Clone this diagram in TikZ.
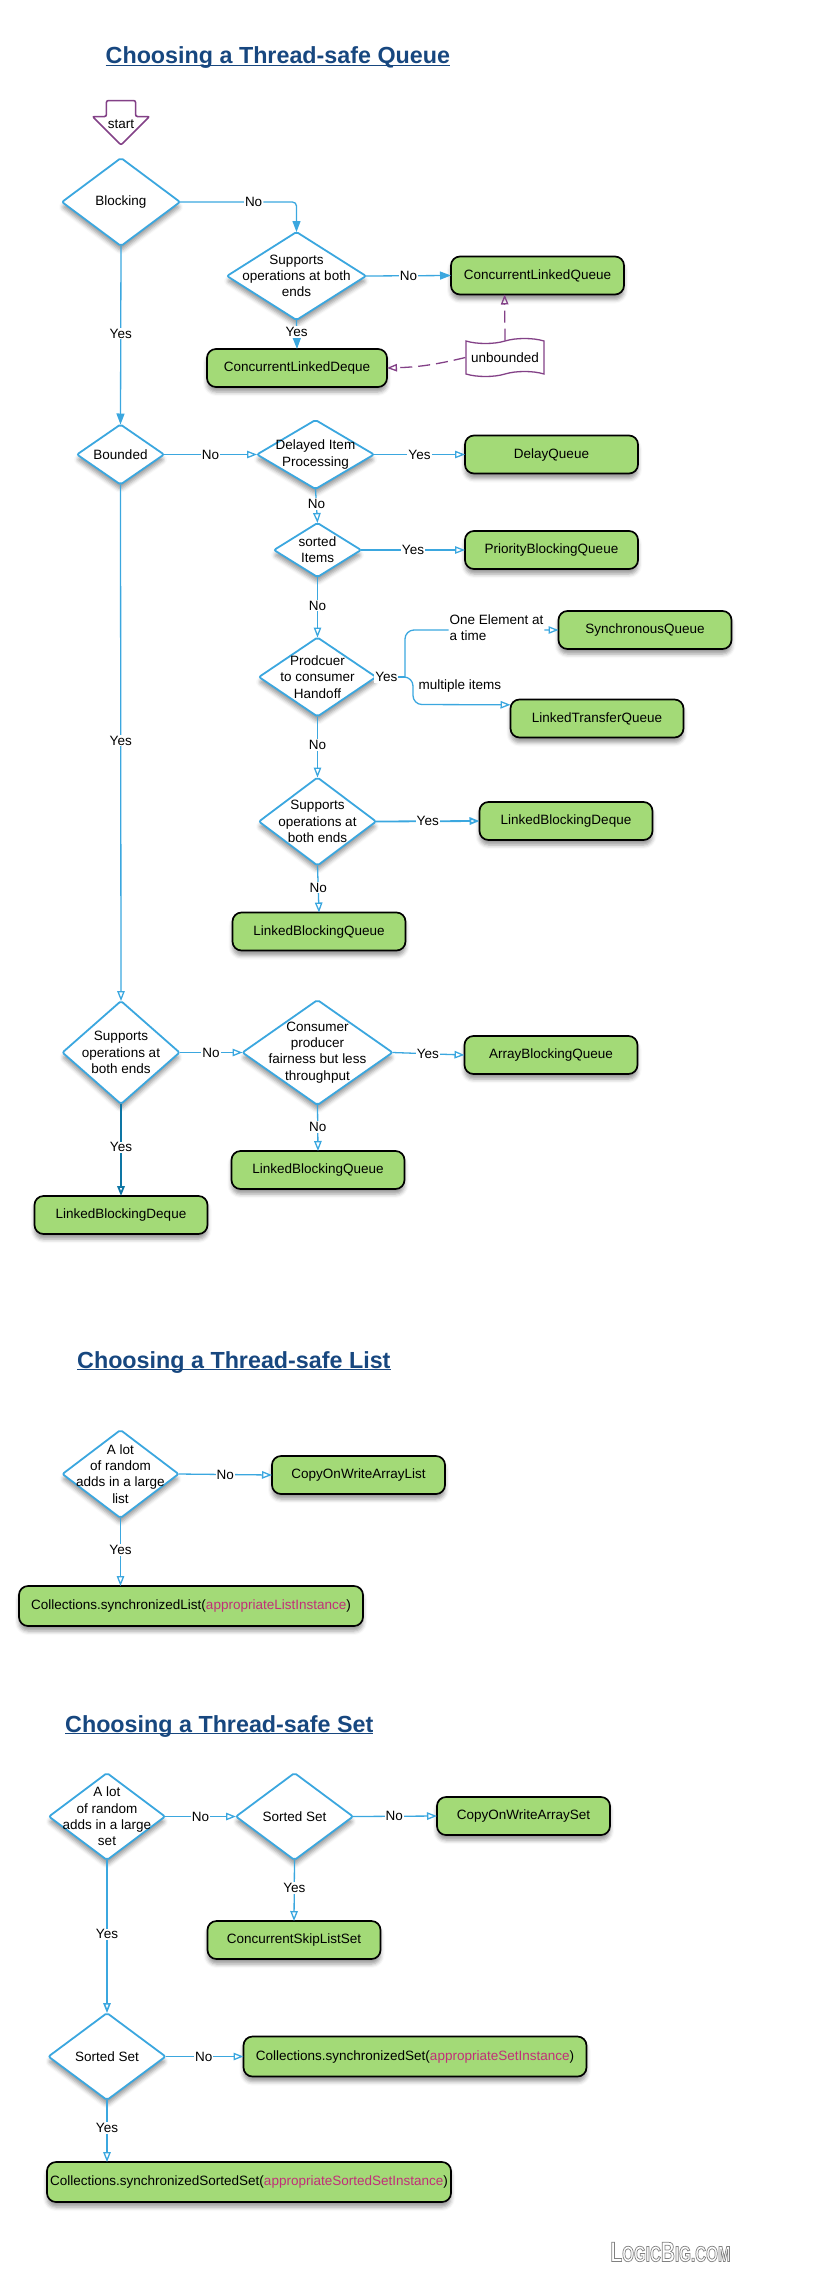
\documentclass[tikz,border=0pt]{standalone}
\usepackage{fontspec}
\setmainfont{Liberation Sans}
\newfontfamily\logofont[FakeStretch=0.69]{Liberation Sans}
\usetikzlibrary{shapes.geometric,shapes.arrows,shapes.symbols,positioning,arrows.meta,shadows.blur}

\definecolor{linkblue}{HTML}{3BA7DF}
\definecolor{darkblue}{HTML}{0E76A4}
\definecolor{boxgreen}{HTML}{A3DA77}
\definecolor{notepurple}{HTML}{834187}
\definecolor{titleblue}{HTML}{17477F}
\definecolor{argpink}{HTML}{C12F78}

\newcommand{\headline}[1]{\setbox0\hbox{#1}\rlap{\rule[-2.4pt]{\wd0}{1.6pt}}\box0}
\newcommand{\logoword}{\special{pdf:code 2 Tr 0.7 w 0.5 G 1 g}\fontsize{28}{28}\selectfont\bfseries L{\fontsize{22}{22}\selectfont OGIC}B{\fontsize{22}{22}\selectfont IG.COM}\special{pdf:code 0 Tr 0 g}}

\begin{document}
\begin{tikzpicture}[
    x=1pt, y=-1pt,
    softshadow/.style={blur shadow={shadow xshift=0pt, shadow yshift=-5pt, shadow blur radius=4pt, shadow opacity=40}},
    box/.style={rectangle, draw=black, line width=1.7pt, rounded corners=9pt, minimum width=173pt, minimum height=38pt, align=center, fill=boxgreen, font=\fontsize{13.5}{16.3}\selectfont, text height=12pt, text depth=5pt, inner sep=0pt, outer sep=0pt, softshadow},
    decision/.style={diamond, aspect=1, draw=linkblue, line width=1.8pt, rounded corners=2pt, fill=white, inner sep=-30pt, outer sep=0pt, align=center, font=\fontsize{13.5}{16.3}\selectfont, softshadow},
    title/.style={font=\fontsize{23.3}{28}\selectfont\bfseries, text=titleblue, inner sep=0pt},
    lbl/.style={fill=white, inner sep=1pt, font=\fontsize{13.5}{16.3}\selectfont},
    note/.style={inner sep=1pt, align=left, font=\fontsize{13.5}{16.3}\selectfont},
    arrow/.style={-{Triangle[open, length=10pt, width=7.5pt]}, draw=linkblue, line width=1.3pt},
    solidarrow/.style={-{Triangle[length=11pt, width=8pt]}, draw=linkblue, line width=1.3pt},
    notearrow/.style={-{Triangle[open, length=10pt, width=7.5pt]}, draw=notepurple, line width=1.3pt, dash pattern=on 12pt off 6pt}
]
\useasboundingbox (0,0) rectangle (823,2296);

% Titles
\node[title, anchor=base west] (queuetitle) at (105.5,64) {\headline{Choosing a Thread-safe Queue}};
\node[title, anchor=base west] (listtitle) at (77,1368) {\headline{Choosing a Thread-safe List}};
\node[title, anchor=base west] (settitle) at (65,1732) {\headline{Choosing a Thread-safe Set}};

% Start
\node[single arrow, shape border rotate=270, draw=notepurple, line width=1.6pt, rounded corners=2pt, fill=white, minimum height=44.5pt, minimum width=57pt, single arrow head extend=13.25pt, single arrow tip angle=90, inner sep=0pt, font=\fontsize{13.5}{16.3}\selectfont] (start) at (121,115.5) {\raisebox{-13pt}[0pt][0pt]{start}};

% Queue decisions
\node[decision, minimum width=118pt, minimum height=88pt] (blocking) at (121,202) {Blocking};
\node[decision, minimum width=139pt, minimum height=88pt] (ends) at (296.5,276) {Supports\\operations at both\\ends};
\node[decision, minimum width=87pt, minimum height=60pt] (bounded) at (120.5,454.5) {Bounded};
\node[decision, minimum width=117pt, minimum height=69pt] (delayed) at (315.5,454.5) {Delayed Item\\Processing};
\node[decision, minimum width=87pt, minimum height=54pt] (sorted) at (317.5,550) {sorted\\Items};
\node[decision, minimum width=117pt, minimum height=79pt] (handoff) at (317.5,677) {Prodcuer\\to consumer\\Handoff};
\node[decision, minimum width=117pt, minimum height=88pt] (bothends) at (317.5,821.5) {Supports\\operations at\\both ends};
\node[decision, minimum width=117pt, minimum height=103pt] (boundedends) at (121,1052.5) {Supports\\operations at\\both ends};
\node[decision, minimum width=150pt, minimum height=105pt] (fairness) at (317.5,1052.5) {Consumer\\producer\\fairness but less\\throughput};

% Queue results
\node[box] (clq) at (537.5,275.5) {ConcurrentLinkedQueue};
\node[box, minimum width=180pt] (cld) at (297,368) {ConcurrentLinkedDeque};
\node[box] (dq) at (551.5,454.5) {DelayQueue};
\node[box] (pbq) at (551.5,550) {PriorityBlockingQueue};
\node[box] (sq) at (645,630) {SynchronousQueue};
\node[box] (ltq) at (597,718.5) {LinkedTransferQueue};
\node[box] (lbd) at (566,821) {LinkedBlockingDeque};
\node[box] (lbq) at (319,931.5) {LinkedBlockingQueue};
\node[box] (abq) at (551,1055) {ArrayBlockingQueue};
\node[box] (lbqb) at (318,1170) {LinkedBlockingQueue};
\node[box] (lbdb) at (121,1215) {LinkedBlockingDeque};

% Unbounded note
\node[tape, tape bend top=in and out, tape bend bottom=in and out, tape bend height=5pt, draw=notepurple, line width=1.3pt, fill=white, minimum width=78pt, minimum height=38pt, inner sep=0pt, font=\fontsize{13.5}{16.3}\selectfont] (unbounded) at (505,357.5) {unbounded};

% Queue arrows
\draw[solidarrow, rounded corners=4pt] (blocking.east) -| node[lbl, pos=.316] {No} (ends.north);
\draw[solidarrow] (ends.east) -- node[lbl] {No} (clq.west);
\draw[solidarrow] (ends.south) -- node[lbl, pos=.41] {Yes} (cld.north);
\draw[solidarrow] (blocking.south) -- node[lbl, pos=.49] {Yes} (bounded.north);
\draw[arrow] (bounded.east) -- node[lbl] {No} (delayed.west);
\draw[arrow] (bounded.south) -- node[lbl, pos=.496] {Yes} (boundedends.north);
\draw[arrow] (delayed.east) -- node[lbl] {Yes} (dq.west);
\draw[arrow] (delayed.south) -- node[lbl, pos=.44] {No} (sorted.north);
\draw[arrow] (sorted.east) -- node[lbl] {Yes} (pbq.west);
\draw[arrow] (sorted.south) -- node[lbl, pos=.47] {No} (handoff.north);
\draw[arrow] (handoff.south) -- node[lbl, pos=.47] {No} (bothends.north);
\draw[arrow, line width=1.8pt] (bothends.east) -- node[lbl] {Yes} (lbd.west);
\draw[arrow] (bothends.south) -- node[lbl, pos=.47] {No} (lbq.north);
\draw[arrow] (boundedends.east) -- node[lbl] {No} (fairness.west);
\draw[arrow] (fairness.east) -- node[lbl, pos=.49] {Yes} (abq.west);
\draw[arrow] (fairness.south) -- node[lbl, pos=.48] {No} (lbqb.north);
\draw[arrow, draw=darkblue, line width=1.8pt] (boundedends.south) -- node[lbl, pos=.47] {Yes} (lbdb.north);

% Handoff fork
\coordinate (fork) at (405,677);
\draw[draw=linkblue, line width=1.3pt] (handoff.east) -- node[lbl, pos=.36] {Yes} (fork);
\draw[arrow, rounded corners=9pt] (fork) |- node[note, fill=white, pos=.798, yshift=2pt] {One Element at\\a time} (sq.west);
\draw[arrow, rounded corners=9pt] (fork) -| ++(8,27.5) -- (ltq.171);
\node[note] (multi) at (460,686) {multiple items};

% Note arrows
\draw[notearrow] (unbounded.north) -- (clq.210);
\draw[notearrow] (unbounded.west) to[bend left=6] (cld.east);

% List
\node[decision, minimum width=116pt, minimum height=88pt] (listadds) at (120.5,1474) {A lot\\of random\\adds in a large\\list};
\node[box] (cowlist) at (358.5,1475) {CopyOnWriteArrayList};
\node[box, minimum width=344pt, minimum height=40pt] (synclist) at (191,1606) {Collections.synchronizedList(\textcolor{argpink}{appropriateListInstance})};
\draw[arrow] (listadds.east) -- node[lbl] {No} (cowlist.west);
\draw[arrow] (listadds.south) -- node[lbl, pos=.47] {Yes} (listadds.south |- synclist.north);

% Set
\node[decision, minimum width=116pt, minimum height=87pt] (setadds) at (107,1816.5) {A lot\\of random\\adds in a large\\set};
\node[decision, minimum width=117pt, minimum height=87pt] (sortedset) at (294.5,1816.5) {Sorted Set};
\node[decision, minimum width=117pt, minimum height=87pt] (sortedsetb) at (107,2056.5) {Sorted Set};
\node[box] (cowset) at (523.5,1816) {CopyOnWriteArraySet};
\node[box] (skipset) at (294,1940) {ConcurrentSkipListSet};
\node[box, minimum width=343pt, minimum height=40pt] (syncset) at (415,2056.5) {Collections.synchronizedSet(\textcolor{argpink}{appropriateSetInstance})};
\node[box, minimum width=404pt, minimum height=40pt] (syncsorted) at (249,2182) {Collections.synchronizedSortedSet(\textcolor{argpink}{appropriateSortedSetInstance})};
\draw[arrow] (setadds.east) -- node[lbl] {No} (sortedset.west);
\draw[arrow] (sortedset.east) -- node[lbl, pos=.49] {No} (cowset.west);
\draw[arrow] (sortedset.south) -- node[lbl, pos=.46] {Yes} (skipset.north);
\draw[arrow, line width=1.6pt] (setadds.south) -- node[lbl, pos=.485] {Yes} (sortedsetb.north);
\draw[arrow] (sortedsetb.east) -- node[lbl, pos=.49] {No} (syncset.west);
\draw[arrow] (sortedsetb.south) -- node[lbl, pos=.45] {Yes} (sortedsetb.south |- syncsorted.north);

% Logo
\node[inner sep=0pt, font=\logofont] (logo) at (670.5,2252) {\logoword};

\end{tikzpicture}
\end{document}
